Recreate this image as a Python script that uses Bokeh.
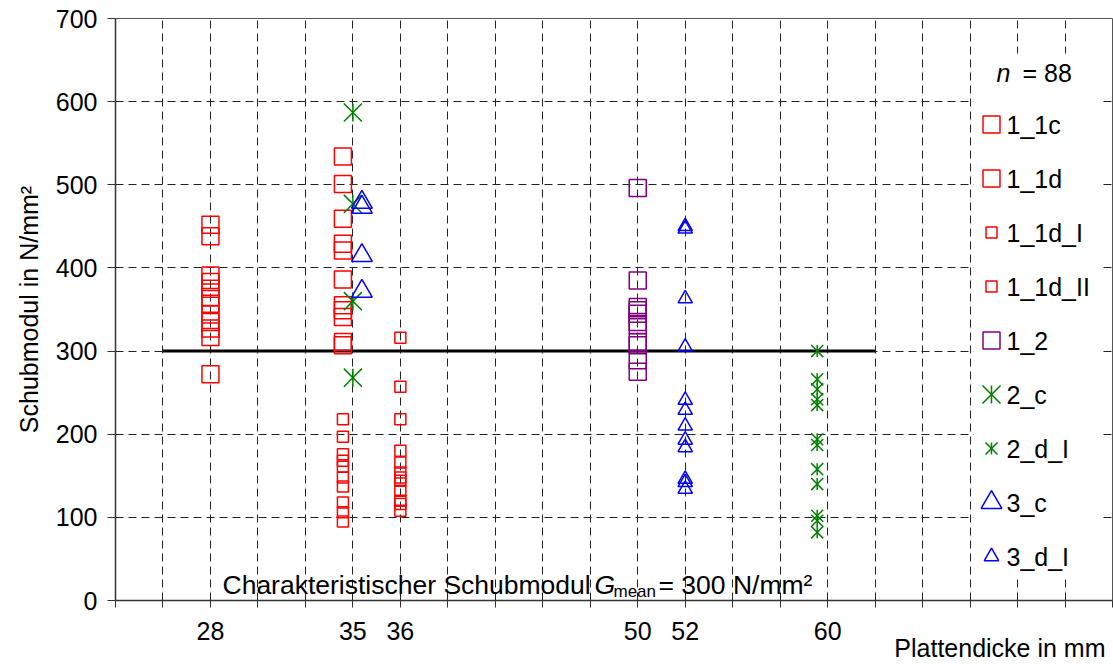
import math
from bokeh.plotting import figure
from bokeh.models import FixedTicker, Label, Range1d, Title
from bokeh.embed import file_html
from bokeh.resources import INLINE

# ---------------- data ----------------
thickness_labels = [28, 35, 36, 50, 52, 60]          # plate thickness in mm (tick labels)
n_total = 88
g_mean = 300

s_1_1c = [452, 438, 391, 383, 375, 365, 357, 344, 335, 327, 317, 272]          # 28 mm
s_1_1d = [534, 501, 459, 429, 421, 386, 355, 349, 341, 311, 307]               # 35 mm
s_1_1d_I = [218, 197, 176, 168, 161, 148, 137, 118, 106, 95]                   # 35 mm
s_1_1d_II = [316, 257, 218, 180, 166, 154, 148, 144, 132, 120, 116, 108]       # 36 mm
s_1_2 = [496, 385, 353, 349, 345, 335, 331, 311, 307, 289, 275]                # 50 mm
s_2_c = [587, 477, 360, 268]                                                   # 35 mm
s_2_d_I = [300, 266, 254, 242, 235, 194, 187, 158, 140, 102, 96, 82]           # 60 mm
s_3_c = [479, 473, 415, 372]                                                   # 35 mm
s_3_d_I = [450, 447, 363, 305, 241, 229, 210, 193, 184, 146, 142, 134]         # 52 mm

series_names = ["1_1c", "1_1d", "1_1d_I", "1_1d_II", "1_2", "2_c", "2_d_I", "3_c", "3_d_I"]
series_values = [s_1_1c, s_1_1d, s_1_1d_I, s_1_1d_II, s_1_2, s_2_c, s_2_d_I, s_3_c, s_3_d_I]
series_thickness = [28, 35, 35, 36, 50, 35, 60, 35, 52]

# ---------------- layout / style ----------------
W, H = 1113, 664
LEFT, TOP = 115, 18
FW, FH = 997, 582
X_MAX, Y_MAX = 21, 700
slot = {28: 2, 35: 5, 36: 6, 50: 11, 52: 12, 60: 15}   # category slot on the axis
offsets = {"1_1c": 0.0, "1_1d": -0.21, "1_1d_I": -0.21, "1_1d_II": 0.0, "1_2": 0.0,
           "2_c": 0.0, "2_d_I": -0.22, "3_c": 0.19, "3_d_I": 0.0}
RED, PURPLE, GREEN, BLUE = "#FF0000", "#800080", "#008000", "#0000FF"
styles = {
    "1_1c": ("square", RED, 17), "1_1d": ("square", RED, 17),
    "1_1d_I": ("square", RED, 11), "1_1d_II": ("square", RED, 11),
    "1_2": ("square", PURPLE, 17), "2_c": ("star", GREEN, 18),
    "2_d_I": ("star", GREEN, 12), "3_c": ("triangle", BLUE, 18),
    "3_d_I": ("triangle", BLUE, 12.5),
}
FONT = "Liberation Sans"
FS = "25px"


def dx(px):
    return (px - LEFT) * X_MAX / FW


def dy(py):
    return (TOP + FH - py) * Y_MAX / FH


p = figure(width=W, height=H, output_backend="svg", toolbar_location=None,
           x_range=Range1d(0, X_MAX), y_range=Range1d(0, Y_MAX),
           min_border_left=LEFT, min_border_right=W - LEFT - FW,
           min_border_top=TOP, min_border_bottom=H - TOP - FH)
p.background_fill_color = "white"
p.border_fill_color = "white"
p.outline_line_color = "#555555"
p.outline_line_width = 1

# grids
p.xgrid.ticker = FixedTicker(ticks=list(range(1, X_MAX)))
p.ygrid.ticker = FixedTicker(ticks=list(range(100, Y_MAX, 100)))
for g in (p.xgrid, p.ygrid):
    g.grid_line_color = "#222222"
    g.grid_line_dash = "8 5"
    g.grid_line_width = 1

# axes
p.xaxis.ticker = FixedTicker(ticks=list(range(0, X_MAX + 1)))
overrides = {i: "" for i in range(0, X_MAX + 1)}
for t in thickness_labels:
    overrides[slot[t]] = str(t)
p.xaxis.major_label_overrides = overrides
p.yaxis.ticker = FixedTicker(ticks=list(range(0, Y_MAX + 1, 100)))
for ax in (p.xaxis, p.yaxis):
    ax.axis_line_color = "#333333"
    ax.axis_line_width = 1.5
    ax.major_tick_line_color = "#333333"
    ax.major_tick_in = 0
    ax.minor_tick_line_color = None
    ax.major_label_text_font = FONT
    ax.major_label_text_font_size = FS
    ax.major_label_text_color = "black"
p.xaxis.major_tick_out = 7
p.xaxis.major_label_standoff = 14
p.yaxis.major_tick_out = 8
p.yaxis.major_label_standoff = 10
p.yaxis.axis_label = "Schubmodul in N/mm²"
p.yaxis.axis_label_text_font = FONT
p.yaxis.axis_label_text_font_size = FS
p.yaxis.axis_label_text_font_style = "normal"
p.yaxis.axis_label_text_color = "black"
p.yaxis.axis_label_standoff = 10

# x axis title, right aligned below the axis
p.add_layout(Title(text="Plattendicke in mm", align="right", offset=7,
                   text_font=FONT, text_font_size=FS, text_font_style="normal",
                   text_color="black", standoff=-22), "below")

# reference line (G_mean)
p.line([1, 16], [g_mean, g_mean], line_color="black", line_width=3)


def draw(xs, ys, kind, color, size):
    if kind == "star":
        p.scatter(xs, ys, marker="x", size=size * 1.42, line_color=color, line_width=1.5)
        p.scatter(xs, ys, marker="dash", size=size, angle=math.pi / 2,
                  line_color=color, line_width=1.5)
    elif kind == "triangle":
        p.scatter(xs, ys, marker="triangle", size=size * 1.15, line_color=color,
                  fill_color=None, line_width=1.5)
    else:
        p.scatter(xs, ys, marker=kind, size=size, line_color=color,
                  fill_color=None, line_width=1.5)


for name, vals, t in zip(series_names, series_values, series_thickness):
    kind, color, size = styles[name]
    xs = [slot[t] + offsets[name]] * len(vals)
    draw(xs, vals, kind, color, size)

# legend box (white, borderless)
p.quad(left=[dx(973)], right=[dx(1101)], bottom=[dy(575)], top=[dy(53)],
       fill_color="white", line_color=None)

# legend entries
LEG_Y0, LEG_STEP = 124, 54.0
for i, name in enumerate(series_names):
    kind, color, size = styles[name]
    py = LEG_Y0 + i * LEG_STEP
    draw([dx(991)], [dy(py)], kind, color, size)
    p.add_layout(Label(x=dx(1006), y=dy(py), text=name, text_font=FONT,
                       text_font_size=FS, text_baseline="middle", text_align="left",
                       text_color="black"))

p.add_layout(Label(x=dx(996), y=dy(72), text="n", text_font=FONT, text_font_size=FS,
                   text_font_style="italic", text_baseline="middle", text_color="black"))
p.add_layout(Label(x=dx(1022), y=dy(72), text=f"= {n_total}", text_font=FONT,
                   text_font_size=FS, text_baseline="middle", text_color="black"))

# annotation: Charakteristischer Schubmodul G_mean = 300 N/mm²
AFS = "26.5px"
base = dy(584)
p.add_layout(Label(x=dx(222), y=base, text="Charakteristischer Schubmodul", text_font=FONT,
                   text_font_size=AFS, text_baseline="alphabetic", text_color="black"))
p.add_layout(Label(x=dx(594), y=base, text="G", text_font=FONT, text_font_size=AFS,
                   text_font_style="italic", text_baseline="alphabetic", text_color="black"))
p.add_layout(Label(x=dx(613), y=dy(591), text="mean", text_font=FONT, text_font_size="17px",
                   text_baseline="alphabetic", text_color="black"))
p.add_layout(Label(x=dx(658), y=base, text=f"= {g_mean} N/mm²", text_font=FONT,
                   text_font_size=AFS, text_baseline="alphabetic", text_color="black"))

open("out.html", "w").write(file_html(p, INLINE))
